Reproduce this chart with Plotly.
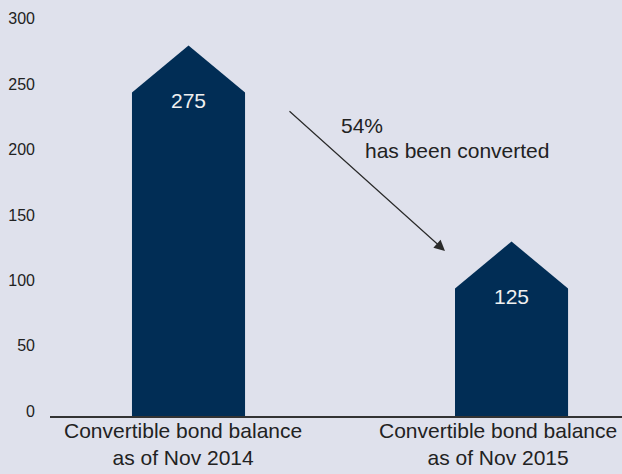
import plotly.graph_objects as go

# ---- data ----
categories = ["Convertible bond balance<br>as of Nov 2014",
              "Convertible bond balance<br>as of Nov 2015"]
values = [275, 125]
value_labels = ["275", "125"]
note_pct = "54%"
note_text = "has been converted"
y_ticks = [0, 50, 100, 150, 200, 250, 300]

# ---- style ----
BG = "#dfe1ec"
NAVY = "#012d55"
TEXT = "#222222"
FONT = "Liberation Sans, Arial, sans-serif"
BAR_W = 0.35
HEAD_UP = 8.5      # peak above value
HEAD_DOWN = 27.5   # shoulder below value

fig = go.Figure()

xs = list(range(len(categories)))
for i, v in zip(xs, values):
    sh = v - HEAD_DOWN
    pk = v + HEAD_UP
    px = [i - BAR_W / 2, i - BAR_W / 2, i, i + BAR_W / 2, i + BAR_W / 2, i - BAR_W / 2]
    py = [0, sh, pk, sh, 0, 0]
    fig.add_trace(go.Scatter(x=px, y=py, mode="lines", fill="toself",
                             fillcolor=NAVY, line=dict(width=0, color=NAVY),
                             hoverinfo="skip", showlegend=False))

fig.add_trace(go.Scatter(
    x=xs, y=[v - HEAD_DOWN - 7.5 for v in values], mode="text",
    text=value_labels, textposition="middle center",
    textfont=dict(color="#f0f0f0", size=21, family=FONT),
    showlegend=False, hoverinfo="skip"))

# category labels
shifts = [-6, -14]
for i, (c, s) in enumerate(zip(categories, shifts)):
    fig.add_annotation(x=i, y=0, xref="x", yref="y", text=c, showarrow=False,
                       yanchor="top", xanchor="center", yshift=-1, xshift=s,
                       font=dict(size=21, color=TEXT, family=FONT))

# arrow
fig.add_annotation(x=0.794, y=126.3, xref="x", yref="y", ax=-157, ay=-141,
                   axref="pixel", ayref="pixel", text="", showarrow=True,
                   arrowhead=2, arrowsize=1.8, arrowwidth=1.2, arrowcolor="#2a2a2a")

fig.add_annotation(x=0.466, y=222.6, xref="x", yref="y", text=note_pct,
                   showarrow=False, xanchor="left", yanchor="middle",
                   font=dict(size=21, color=TEXT, family=FONT))
fig.add_annotation(x=0.540, y=203.4, xref="x", yref="y", text=note_text,
                   showarrow=False, xanchor="left", yanchor="middle",
                   font=dict(size=21, color=TEXT, family=FONT))

fig.update_layout(
    width=622, height=474,
    margin=dict(l=50, r=0, t=10, b=58),
    paper_bgcolor=BG, plot_bgcolor=BG,
    showlegend=False,
    xaxis=dict(range=[-0.4288, 1.342], showgrid=False, zeroline=False,
               showticklabels=False, showline=True, linecolor="#333333",
               linewidth=1.5, fixedrange=True),
    yaxis=dict(range=[0, 310.6], tickvals=y_ticks, showgrid=False,
               zeroline=False, showline=False, ticks="",
               ticklabelstandoff=14, ticklabelshift=-5,
               tickfont=dict(size=16, color=TEXT, family=FONT)),
)

fig.write_html("out.html")
